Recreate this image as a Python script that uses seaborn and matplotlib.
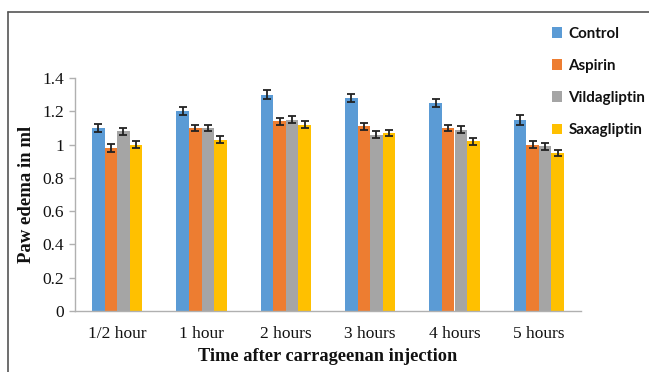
import numpy as np
import pandas as pd
import seaborn as sns
import matplotlib
matplotlib.use("Agg")
import matplotlib.pyplot as plt
from matplotlib.lines import Line2D
from matplotlib.patches import Patch

categories = ["1/2 hour", "1 hour", "2 hours", "3 hours", "4 hours", "5 hours"]
groups = ["Control", "Aspirin", "Vildagliptin", "Saxagliptin"]
control = [1.10, 1.20, 1.30, 1.28, 1.25, 1.15]
aspirin = [0.98, 1.10, 1.14, 1.11, 1.10, 1.00]
vildagliptin = [1.08, 1.10, 1.15, 1.06, 1.09, 0.99]
saxagliptin = [1.00, 1.03, 1.12, 1.07, 1.02, 0.95]
control_err = [0.025, 0.025, 0.025, 0.025, 0.025, 0.03]
aspirin_err = [0.025, 0.02, 0.02, 0.02, 0.02, 0.02]
vildagliptin_err = [0.02, 0.02, 0.02, 0.02, 0.02, 0.02]
saxagliptin_err = [0.02, 0.02, 0.02, 0.02, 0.02, 0.02]
yticks = [0, 0.2, 0.4, 0.6, 0.8, 1.0, 1.2, 1.4]
ytick_labels = ["0", "0.2", "0.4", "0.6", "0.8", "1", "1.2", "1.4"]

colors = ["#5b9bd5", "#ed7d31", "#a5a5a5", "#ffc000"]

series = [control, aspirin, vildagliptin, saxagliptin]
errs = [control_err, aspirin_err, vildagliptin_err, saxagliptin_err]
rows = []
for g, vals, es in zip(groups, series, errs):
    for c, v, e in zip(categories, vals, es):
        rows.append({"time": c, "group": g, "value": v, "err": e})
df = pd.DataFrame(rows)

sns.set_theme(style="white")
fig = plt.figure(figsize=(6.49, 3.72), dpi=100)
ax = fig.add_axes([75/649, 61/372, 506/649, 233/372])

sns.barplot(data=df, x="time", y="value", hue="group", order=categories,
            hue_order=groups, palette=colors, width=0.6, errorbar=None,
            saturation=1, ax=ax, legend=False, linewidth=0)

# error bars at bar centres
bars = [p for p in ax.patches]
for i, g in enumerate(groups):
    for j, c in enumerate(categories):
        p = bars[i * len(categories) + j]
        xc = p.get_x() + p.get_width() / 2
        ax.errorbar(xc, p.get_height(), yerr=errs[i][j], fmt="none",
                    ecolor="#222222", elinewidth=1.3, capsize=3.2, capthick=1.3)

ax.set_ylim(0, 1.4)
ax.set_xlim(-0.5, 5.5)
ax.set_yticks(yticks)
ax.set_yticklabels(ytick_labels)
for s in ["top", "right"]:
    ax.spines[s].set_visible(False)
for s in ["left", "bottom"]:
    ax.spines[s].set_color("#b0b0b0")
    ax.spines[s].set_linewidth(1.0)
ax.tick_params(axis="y", left=True, length=4, color="#b0b0b0", width=1, pad=4)
ax.tick_params(axis="x", bottom=False, pad=5)
for lab in ax.get_yticklabels() + ax.get_xticklabels():
    lab.set_fontfamily("Liberation Serif")
    lab.set_fontsize(12.5)
    lab.set_color("#111111")

ax.set_xlabel("Time after carrageenan injection", fontfamily="Liberation Serif",
              fontweight="bold", fontsize=13.2, color="#111111", labelpad=4)
ax.set_ylabel("Paw edema in ml", fontfamily="Liberation Serif",
              fontweight="bold", fontsize=13.5, color="#111111", labelpad=5)

handles = [Patch(facecolor=c, edgecolor="none") for c in colors]
leg = fig.legend(handles, groups, loc="upper left", bbox_to_anchor=(538/649, 1 - 13/372),
                 frameon=False, handlelength=0.7, handleheight=0.7, handletextpad=0.4,
                 labelspacing=1.2, prop={"family": "Lato", "weight": "bold", "size": 10.9})
for t in leg.get_texts():
    t.set_color("#111111")

# outer frame (top and left edges visible in the cropped original)
fig.add_artist(Line2D([8/649, 8/649], [0, 1 - 12/372], transform=fig.transFigure,
                      color="#555555", linewidth=1.2))
fig.add_artist(Line2D([8/649, 1], [1 - 12/372, 1 - 12/372], transform=fig.transFigure,
                      color="#555555", linewidth=1.2))

fig.savefig("out.png", dpi=100)
